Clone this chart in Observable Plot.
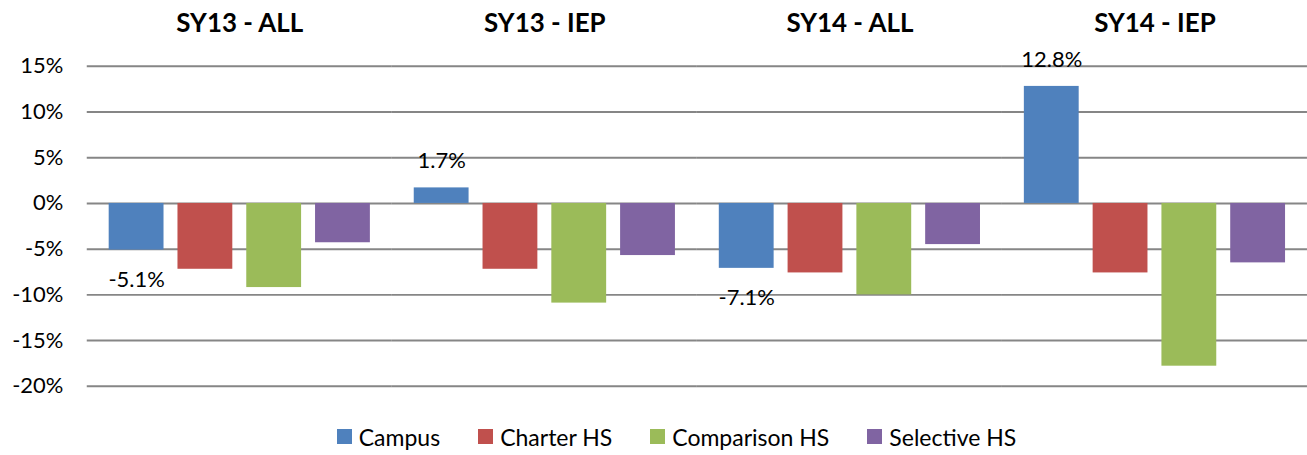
<!DOCTYPE html>
<html>
<head>
<meta charset="utf-8">
<script src="https://cdn.jsdelivr.net/npm/d3@7"></script>
<script src="https://cdn.jsdelivr.net/npm/@observablehq/plot@0.6"></script>
<style>
  html, body { margin: 0; padding: 0; background: #fff; overflow: hidden; }
  body { width: 1307px; font-family: Lato, "Open Sans", sans-serif; }
  #chart { width: 1307px; overflow: hidden; height: 410px; }
  #legend { display: flex; justify-content: center; align-items: center; gap: 38px; height: 45px; padding-top: 8px; font-size: 23px; color: #000; padding-left: 46px; box-sizing: border-box; }
  #legend .item { display: flex; align-items: center; gap: 7px; }
  #legend .sw { width: 15px; height: 15px; display: inline-block; }
</style>
</head>
<body>
<div id="chart"></div>
<div id="legend"></div>
<script>
const groups = ["SY13 - ALL", "SY13 - IEP", "SY14 - ALL", "SY14 - IEP"];
const seriesNames = ["Campus", "Charter HS", "Comparison HS", "Selective HS"];
const seriesColors = ["#4F81BD", "#C0504D", "#9BBB59", "#8064A2"];
const campus = [-5.1, 1.7, -7.1, 12.8];
const charter = [-7.2, -7.2, -7.6, -7.6];
const comparison = [-9.2, -10.9, -10.0, -17.8];
const selective = [-4.3, -5.7, -4.5, -6.5];
const yTicks = [-20, -15, -10, -5, 0, 5, 10, 15];

const seriesValues = [campus, charter, comparison, selective];
const data = [];
groups.forEach((g, gi) => {
  seriesNames.forEach((s, si) => {
    data.push({group: g, series: s, value: seriesValues[si][gi]});
  });
});
const labelled = data.filter(d => d.series === "Campus");

const chart = Plot.plot({
  width: 1311,
  height: 410,
  marginTop: 66,
  marginBottom: 23,
  marginLeft: 86,
  marginRight: 0,
  style: {fontFamily: "Lato, 'Open Sans', sans-serif", fontSize: "22px", color: "#000", background: "#fff"},
  fx: {domain: groups, padding: 0, label: null, axis: "top", tickSize: 0, tickPadding: 34},
  x: {domain: seriesNames, paddingInner: 0.2, paddingOuter: 0.29, axis: null},
  y: {domain: [-20, 15], ticks: yTicks, tickFormat: d => d + "%", label: null, tickSize: 0, tickPadding: 24},
  color: {domain: seriesNames, range: seriesColors},
  marks: [
    Plot.ruleY(yTicks, {stroke: "#868686", strokeWidth: 2}),
    Plot.barY(data, {fx: "group", x: "series", y: "value", fill: "series"}),
    Plot.text(labelled.filter(d => d.value >= 0), {fx: "group", x: "series", y: "value", text: d => d.value.toFixed(1) + "%", dy: -27, fontSize: 22, fill: "#000"}),
    Plot.text(labelled.filter(d => d.value < 0), {fx: "group", x: "series", y: "value", text: d => d.value.toFixed(1) + "%", dy: 30, fontSize: 22, fill: "#000"})
  ]
});
chart.querySelectorAll("g[aria-label='fx-axis tick label'] text").forEach(t => {
  t.setAttribute("font-weight", "bold");
  t.setAttribute("font-size", "26px");
});
document.getElementById("chart").appendChild(chart);

const legend = document.getElementById("legend");
seriesNames.forEach((s, i) => {
  const item = document.createElement("div");
  item.className = "item";
  const sw = document.createElement("span");
  sw.className = "sw";
  sw.style.background = seriesColors[i];
  const label = document.createElement("span");
  label.textContent = s;
  item.appendChild(sw);
  item.appendChild(label);
  legend.appendChild(item);
});
</script>
</body>
</html>
